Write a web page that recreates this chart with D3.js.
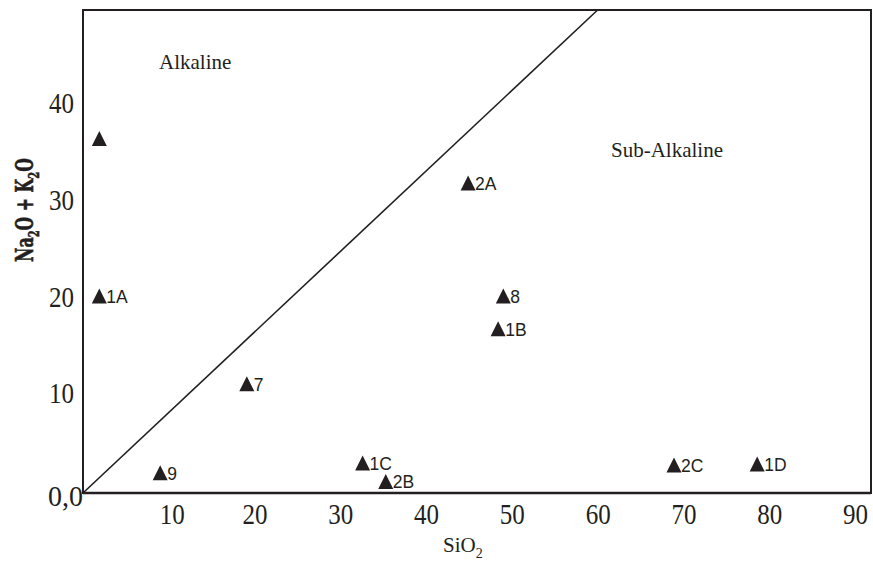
<!DOCTYPE html>
<html>
<head>
<meta charset="utf-8">
<style>
  body { margin: 0; background: #fff; }
  svg { display: block; }
  .tick text { font-family: "Liberation Serif", "Times New Roman", serif; fill: #231f20; }
  .pt-label { font-family: "Liberation Sans", Arial, sans-serif; font-size: 17.5px; fill: #231f20; }
  .region { font-family: "Liberation Serif", "Times New Roman", serif; font-size: 21px; fill: #231f20; }
</style>
</head>
<body>
<script src="https://d3js.org/d3.v7.min.js"></script>
<script>

// data
var sio2   = [1.9, 1.9, 19.1, 9.0, 32.6, 35.3, 68.9, 78.6, 44.9, 49.0, 48.4];
var alkali = [36.7, 20.4, 11.3, 2.1, 3.1, 1.2, 2.9, 3.0, 32.1, 20.4, 17.0];
var names  = ["", "1A", "7", "9", "1C", "2B", "2C", "1D", "2A", "8", "1B"];

var xTicks = [10, 20, 30, 40, 50, 60, 70, 80, 90];
var yTicks = [10, 20, 30, 40];

// dividing line, from origin to (60, 50)
var divider = [[0, 0], [60, 50]];

var width = 873, height = 573;
var plotL = 83, plotR = 871, plotT = 10, plotB = 493;

var svg = d3.select("body").append("svg")
    .attr("width", width)
    .attr("height", height);

var x = d3.scaleLinear().domain([0, 91.87]).range([plotL, plotR]);
var y = d3.scaleLinear().domain([0, 50]).range([plotB, plotT]);

// frame
svg.append("rect")
    .attr("x", plotL).attr("y", plotT)
    .attr("width", plotR - plotL).attr("height", plotB - plotT)
    .attr("fill", "none")
    .attr("stroke", "#231f20")
    .attr("stroke-width", 2);

// bottom axis line a bit heavier
svg.append("line")
    .attr("x1", plotL).attr("x2", plotR)
    .attr("y1", plotB).attr("y2", plotB)
    .attr("stroke", "#231f20")
    .attr("stroke-width", 2.4);

// x axis labels
var xAxis = svg.append("g")
    .attr("transform", "translate(0," + plotB + ")")
    .call(d3.axisBottom(x).tickValues(xTicks).tickSize(0).tickPadding(10));
xAxis.select(".domain").remove();
xAxis.selectAll("text")
    .attr("font-size", 29)
    .attr("textLength", 25)
    .attr("lengthAdjust", "spacingAndGlyphs");
xAxis.selectAll(".tick").filter(function(d) { return d == 10; })
    .select("text").attr("x", 3);

// y axis labels
var yAxis = svg.append("g")
    .attr("transform", "translate(" + plotL + ",0)")
    .call(d3.axisLeft(y).tickValues(yTicks).tickSize(0).tickPadding(9));
yAxis.select(".domain").remove();
yAxis.selectAll("text")
    .attr("font-size", 29)
    .attr("y", -3)
    .attr("textLength", 25)
    .attr("lengthAdjust", "spacingAndGlyphs");

// origin label
svg.append("text")
    .attr("x", plotL)
    .attr("y", plotB + 13)
    .attr("text-anchor", "end")
    .attr("font-family", "Liberation Serif, serif")
    .attr("font-size", 29)
    .attr("fill", "#231f20")
    .attr("textLength", 35)
    .attr("lengthAdjust", "spacingAndGlyphs")
    .text("0,0");

// divider line
svg.append("line")
    .attr("x1", x(divider[0][0])).attr("y1", y(divider[0][1]))
    .attr("x2", x(divider[1][0])).attr("y2", y(divider[1][1]))
    .attr("stroke", "#231f20")
    .attr("stroke-width", 1.6);

// region names
svg.append("text").attr("class", "region")
    .attr("x", 159).attr("y", 69)
    .text("Alkaline");
svg.append("text").attr("class", "region")
    .attr("x", 611).attr("y", 157)
    .text("Sub-Alkaline");

// x title
var xt = svg.append("text").attr("class", "region")
    .attr("x", 443).attr("y", 552)
    .attr("font-size", 20.5);
xt.append("tspan").text("SiO");
xt.append("tspan").attr("font-size", 14).attr("dy", 6).text("2");

// y title
var yt = svg.append("text")
    .attr("font-family", "'DejaVu Serif', serif")
    .attr("font-weight", "bold")
    .attr("font-size", 24)
    .attr("fill", "#231f20")
    .attr("stroke", "#231f20")
    .attr("stroke-width", 0.6)
    .attr("text-anchor", "middle");
yt.append("tspan").text("Na");
yt.append("tspan").attr("font-size", 15).attr("dy", 6).text("2");
yt.append("tspan").attr("dy", -6).text("O + K");
yt.append("tspan").attr("font-size", 15).attr("dy", 6).text("2");
yt.append("tspan").attr("dy", -6).text("O");
var ytLen = yt.node().getComputedTextLength();
yt.attr("transform", "translate(33,210) rotate(-90) scale(" + (104 / ytLen) + ",1)");

// samples
var tri = "M0,-7.5L7.5,7.5L-7.5,7.5Z";
var pts = svg.append("g").selectAll("g")
    .data(d3.range(sio2.length))
    .enter().append("g")
    .attr("transform", function(i) { return "translate(" + x(sio2[i]) + "," + y(alkali[i]) + ")"; });

pts.append("path")
    .attr("d", tri)
    .attr("fill", "#231f20");

pts.append("text")
    .attr("class", "pt-label")
    .attr("x", 7)
    .attr("y", 7)
    .text(function(i) { return names[i]; });

</script>
</body>
</html>
